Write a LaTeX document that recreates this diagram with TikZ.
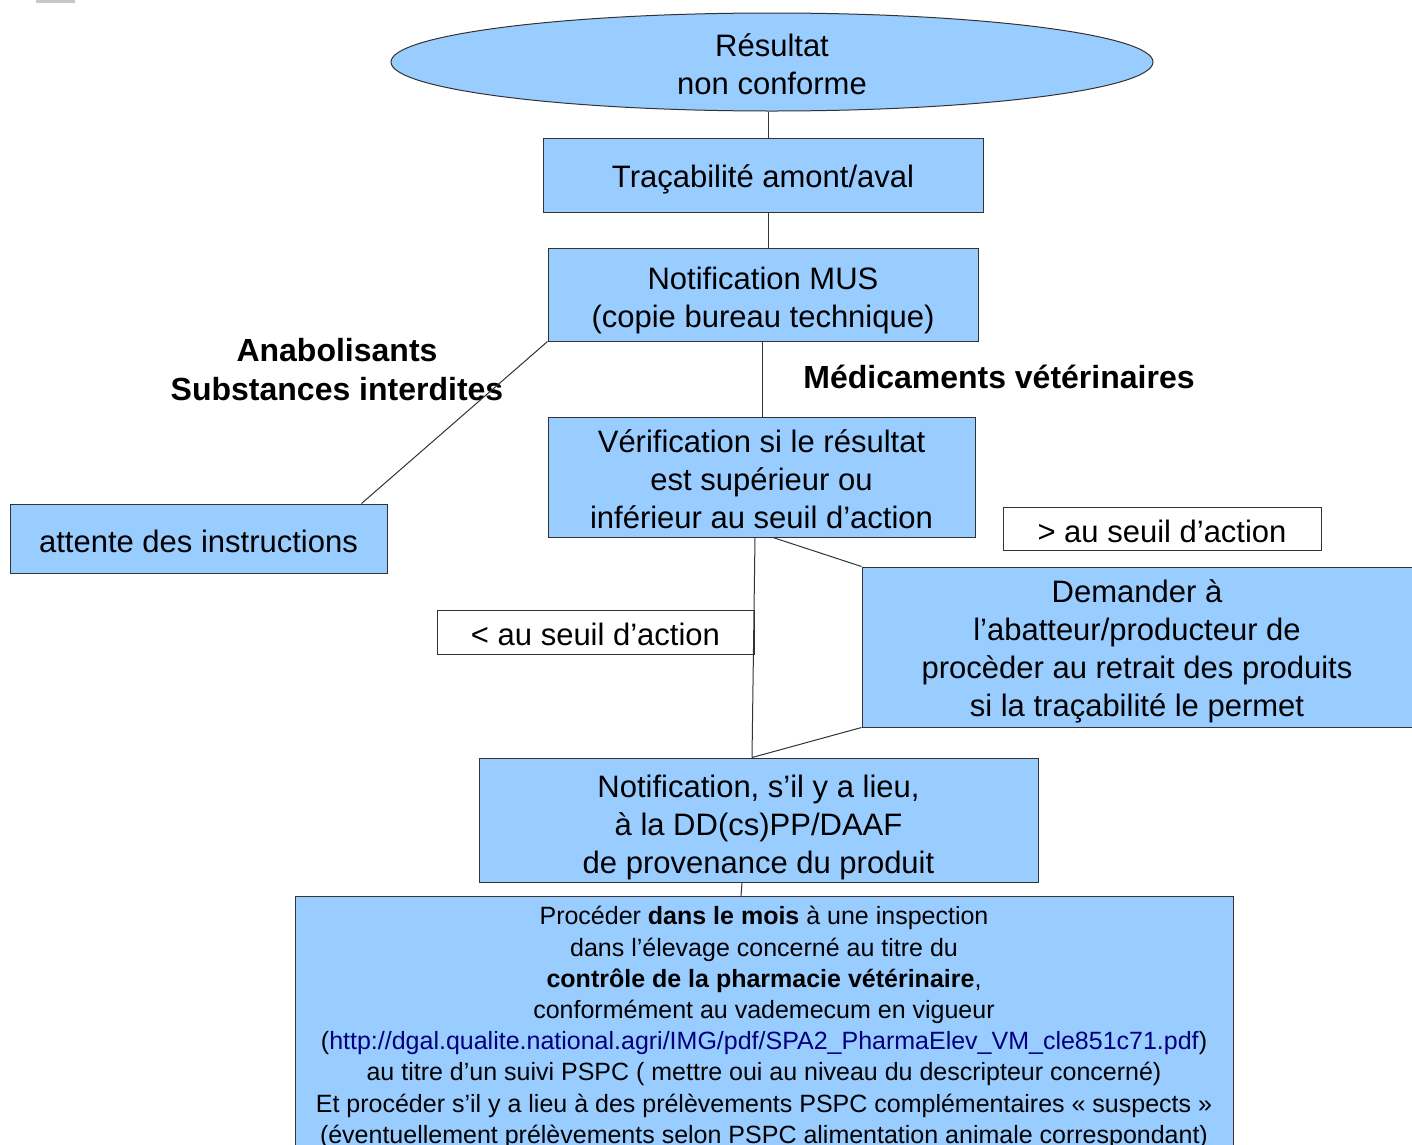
\documentclass[tikz,border=0pt]{standalone}
\usepackage{fontspec}
\setmainfont{Liberation Sans}
\usetikzlibrary{positioning}
\usetikzlibrary{shapes.geometric}
\definecolor{bleuclair}{HTML}{99CCFF}
\definecolor{contour}{HTML}{333333}
\definecolor{lienurl}{HTML}{00007F}
% invisible strut that pushes a text a little lower in its box
\newcommand{\haut}[1]{\rule{0pt}{#1}}
\tikzset{
  % blue boxes of the chart
  boite/.style={draw=contour, fill=bleuclair, line width=1pt, align=center, inner sep=0pt,
    font=\fontsize{31}{38}\selectfont},
  % white boxes naming a branch
  seuil/.style={draw=contour, fill=white, line width=1pt, align=center, inner sep=0pt,
    font=\fontsize{31}{38}\selectfont},
  % bold titles of the two branches
  branche/.style={align=center, font=\bfseries\fontsize{32}{39}\selectfont},
  % connectors
  trait/.style={draw=contour, line width=1pt},
}

\begin{document}
\begin{tikzpicture}[x=1pt, y=-1pt]
  \useasboundingbox (0,0) rectangle (1412,1144);
  \clip (0,0) rectangle (1412,1144);

  \fill[black!22] (36,-2) rectangle (75,3);

  \node[boite, ellipse, minimum width=762pt, minimum height=98pt] (resultat) at (772,62) {\haut{27pt}R\'esultat\\non conforme};
  \node[boite, minimum width=440pt, minimum height=74pt] (tracabilite) at (763,175) {\haut{32pt}Tra\c{c}abilit\'e amont/aval};
  \node[boite, minimum width=430pt, minimum height=93pt] (mus) at (763,294.5) {\haut{35pt}Notification MUS\\(copie bureau technique)};
  \node[boite, minimum width=427pt, minimum height=120pt] (verif) at (761.5,477) {\haut{27pt}V\'erification si le r\'esultat\\est sup\'erieur ou\\inf\'erieur au seuil d’action};
  \node[boite, minimum width=377pt, minimum height=69pt] (attente) at (198.5,538.5) {\haut{28pt}attente des instructions};
  \node[seuil, minimum width=318pt, minimum height=43pt] (sup) at (1162,528.5) {\haut{28pt}> au seuil d’action};
  \node[boite, minimum width=550pt, minimum height=160pt] (demander) at (1137,647) {\haut{32pt}Demander \`a\\l’abatteur/producteur de\\proc\`eder au retrait des produits\\si la tra\c{c}abilit\'e le permet};
  \node[seuil, minimum width=317pt, minimum height=44pt] (inf) at (595.5,632) {\haut{28pt}< au seuil d’action};
  \node[boite, minimum width=559pt, minimum height=124pt] (ddpp) at (758.5,820) {\haut{37pt}Notification, s’il y a lieu,\\\`a la DD(cs)PP/DAAF\\de provenance du produit};
  \node[boite, anchor=north, minimum width=938pt, inner ysep=10pt, font=\fontsize{25}{31.2}\selectfont] (pspc) at (764,896)
    {Proc\'eder \textbf{dans le mois} \`a une inspection\\
     dans l’\'elevage concern\'e au titre du\\
     \textbf{contr\^ole de la pharmacie v\'et\'erinaire},\\
     conform\'ement au vademecum en vigueur\\
     (\textcolor{lienurl}{http://dgal.qualite.national.agri/IMG/pdf/SPA2\_PharmaElev\_VM\_cle851c71.pdf})\\
     au titre d’un suivi PSPC ( mettre oui au niveau du descripteur concern\'e)\\
     Et proc\'eder s’il y a lieu \`a des pr\'el\`evements PSPC compl\'ementaires « suspects »\\
     (\'eventuellement pr\'el\`evements selon PSPC alimentation animale correspondant)};

  \node[branche] (anabo) at (337,370) {Anabolisants\\Substances interdites};
  \node[branche] (medic) at (999,377) {M\'edicaments v\'et\'erinaires};

  \draw[trait] ([xshift=-4pt]resultat.south) -- ([xshift=5pt]tracabilite.north);
  \draw[trait] ([xshift=5pt]tracabilite.south) -- ([xshift=5pt]mus.north);
  \draw[trait] ([xshift=-1pt]mus.south) -- ([xshift=0.5pt]verif.north);
  \draw[trait] (mus.south west) -- ([xshift=163pt]attente.north);
  \draw[trait] ([xshift=-6.5pt]verif.south) -- ([xshift=-6.5pt]ddpp.north);
  \draw[trait] ([xshift=11.5pt]verif.south) -- (demander.north west);
  \draw[trait] (demander.south west) -- ([xshift=-6.5pt]ddpp.north);
  \draw[trait] ([xshift=-16.5pt]ddpp.south) -- ([xshift=-23pt]pspc.north);
\end{tikzpicture}
\end{document}
